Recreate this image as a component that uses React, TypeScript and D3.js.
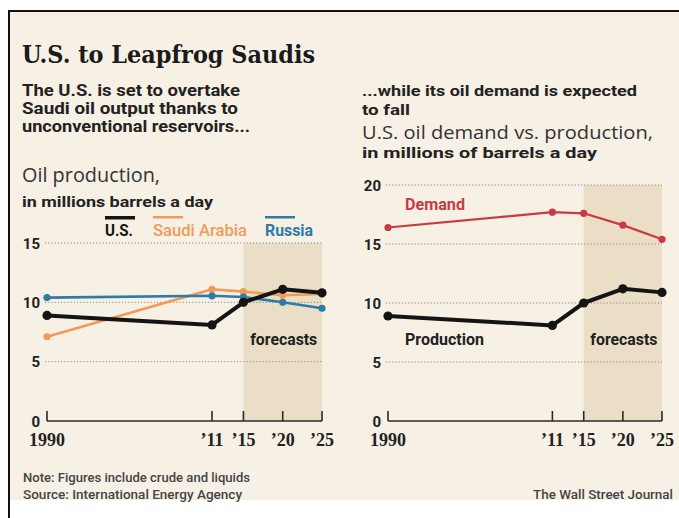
import * as d3 from "d3";

const WIDTH = 679;
const HEIGHT = 518;

// data
const years = [1990, 2011, 2015, 2020, 2025];
const yearLabels = ["1990", "’11", "’15", "’20", "’25"];
const forecastSpan = [2015, 2025];

const usOutput = [8.9, 8.1, 10.0, 11.1, 10.8];
const saudiOutput = [7.1, 11.1, 10.9, 10.6, 10.7];
const russiaOutput = [10.4, 10.55, 10.45, 10.0, 9.5];

const usDemand = [16.4, 17.7, 17.6, 16.6, 15.4];
const usProduction = [8.9, 8.1, 10.0, 11.2, 10.9];

const leftTicks = [0, 5, 10, 15];
const rightTicks = [0, 5, 10, 15, 20];

const SANS = "Roboto, 'Open Sans', sans-serif";
const LIGHT = "'Open Sans', Roboto, sans-serif";
const SERIF = "'DejaVu Serif', 'Liberation Serif', serif";
const AXIS_SERIF = "'Liberation Serif', 'DejaVu Serif', serif";

const BG = "#f6f0e5";
const SHADE = "#eadfc6";
const US_COLOR = "#141414";
const SAUDI_COLOR = "#f29a58";
const RUSSIA_COLOR = "#2d7ba6";
const DEMAND_COLOR = "#c93a43";

type Series = { values: number[]; color: string; width: number; r: number };

const Txt = ({ x, y, w, size, weight = 700, family = SANS, fill = "#222", anchor = "start", children }: any) => (
  <text
    x={x}
    y={y}
    fontSize={size}
    fontWeight={weight}
    fontFamily={family}
    fill={fill}
    textAnchor={anchor}
    textLength={w}
    lengthAdjust={w ? "spacingAndGlyphs" : undefined}
  >
    {children}
  </text>
);

const Panel = ({ xScale, yScale, ticks, series }: any) => {
  const [x0, x1] = xScale.range();
  const base = yScale(0);
  const top = yScale(ticks[ticks.length - 1]);
  const line = d3
    .line<number>()
    .x((_, i) => xScale(years[i]))
    .y((d) => yScale(d));

  return (
    <g>
      {/* forecast band */}
      <rect
        x={xScale(forecastSpan[0])}
        y={top}
        width={xScale(forecastSpan[1]) - xScale(forecastSpan[0])}
        height={base - top}
        fill={SHADE}
      />
      {ticks
        .filter((t: number) => t > 0)
        .map((t: number) => (
          <line
            key={t}
            x1={x0 - 2}
            x2={x1}
            y1={yScale(t)}
            y2={yScale(t)}
            stroke="#8c8c8c"
            strokeWidth={1}
            strokeDasharray="1.2 2"
          />
        ))}
      {ticks.map((t: number) => (
        <text
          key={t}
          x={x0 - 7}
          y={yScale(t) + 5.5}
          textAnchor="end"
          fontSize={15}
          fontWeight={700}
          fontFamily={SANS}
          fill="#222"
        >
          {t}
        </text>
      ))}
      {/* axis */}
      <line x1={x0} x2={x1} y1={base} y2={base} stroke="#2a2a2a" strokeWidth={1.6} />
      {years.map((yr, i) => (
        <g key={yr}>
          <line x1={xScale(yr)} x2={xScale(yr)} y1={base} y2={base - 10} stroke="#2a2a2a" strokeWidth={1.6} />
          <text
            x={xScale(yr)}
            y={base + 25}
            textAnchor="middle"
            fontSize={18}
            fontWeight={700}
            fontFamily={AXIS_SERIF}
            fill="#222"
          >
            {yearLabels[i]}
          </text>
        </g>
      ))}
      {series.map((s: Series, k: number) => (
        <g key={k}>
          <path d={line(s.values) ?? ""} fill="none" stroke={s.color} strokeWidth={s.width} strokeLinejoin="round" />
          {s.values.map((v, i) => (
            <circle key={i} cx={xScale(years[i])} cy={yScale(v)} r={s.r} fill={s.color} />
          ))}
        </g>
      ))}
    </g>
  );
};

export default function App() {
  const xLeft = d3.scaleLinear().domain([1990, 2025]).range([47, 322]);
  const yLeft = d3.scaleLinear().domain([0, 15]).range([421, 243]);
  const xRight = d3.scaleLinear().domain([1990, 2025]).range([388, 662]);
  const yRight = d3.scaleLinear().domain([0, 20]).range([421, 185]);

  const leftSeries: Series[] = [
    { values: saudiOutput, color: SAUDI_COLOR, width: 2.6, r: 3.6 },
    { values: russiaOutput, color: RUSSIA_COLOR, width: 2.6, r: 3.6 },
    { values: usOutput, color: US_COLOR, width: 4, r: 4.6 },
  ];
  const rightSeries: Series[] = [
    { values: usDemand, color: DEMAND_COLOR, width: 2.2, r: 3.6 },
    { values: usProduction, color: US_COLOR, width: 4, r: 4.6 },
  ];

  return (
    <svg width={WIDTH} height={HEIGHT} style={{ position: "absolute", left: 0, top: 0 }}>
      <rect x={0} y={0} width={WIDTH} height={HEIGHT} fill="#ffffff" />
      <rect x={10} y={12} width={WIDTH - 10} height={488} fill={BG} />
      <line x1={9} x2={WIDTH} y1={11} y2={11} stroke="#111" strokeWidth={2} />
      <line x1={9} x2={9} y1={10} y2={HEIGHT} stroke="#111" strokeWidth={2} />

      <Txt x={22} y={63} w={293} size={25} family={SERIF} fill="#1a1a1a">
        U.S. to Leapfrog Saudis
      </Txt>

      {/* left header */}
      <Txt x={22} y={96} w={218} size={16}>The U.S. is set to overtake</Txt>
      <Txt x={22} y={114} w={216} size={16}>Saudi oil output thanks to</Txt>
      <Txt x={22} y={132} w={228} size={16}>unconventional reservoirs...</Txt>
      <Txt x={22} y={182} w={138} size={20} weight={400} family={LIGHT} fill="#333">Oil production,</Txt>
      <Txt x={22} y={207} w={191} size={15.5}>in millions barrels a day</Txt>

      {/* legend */}
      <rect x={105} y={216} width={30} height={3.5} fill={US_COLOR} />
      <Txt x={105} y={236} w={28} size={16} fill={US_COLOR}>U.S.</Txt>
      <rect x={153} y={216} width={30} height={2.5} fill={SAUDI_COLOR} />
      <Txt x={153} y={236} w={94} size={16} weight={500} fill={SAUDI_COLOR}>Saudi Arabia</Txt>
      <rect x={265} y={216} width={30} height={2.5} fill={RUSSIA_COLOR} />
      <Txt x={265} y={236} w={48} size={16} fill={RUSSIA_COLOR}>Russia</Txt>

      {/* right header */}
      <Txt x={362} y={95.5} w={275} size={15.5}>...while its oil demand is expected</Txt>
      <Txt x={362} y={114.5} w={48} size={15.5}>to fall</Txt>
      <Txt x={362} y={139} w={291} size={19} weight={400} family={LIGHT} fill="#333">U.S. oil demand vs. production,</Txt>
      <Txt x={362} y={158} w={235} size={15}>in millions of barrels a day</Txt>

      <Panel xScale={xLeft} yScale={yLeft} ticks={leftTicks} series={leftSeries} />
      <Panel xScale={xRight} yScale={yRight} ticks={rightTicks} series={rightSeries} />

      {/* annotations */}
      <Txt x={(xLeft(2015) + xLeft(2025)) / 2 + 1} y={345} w={67} size={16} anchor="middle">forecasts</Txt>
      <Txt x={(xRight(2015) + xRight(2025)) / 2 + 1} y={345} w={67} size={16} anchor="middle">forecasts</Txt>
      <Txt x={405} y={210} w={60} size={16} fill={DEMAND_COLOR}>Demand</Txt>
      <Txt x={405} y={345} w={79} size={16}>Production</Txt>

      {/* footer */}
      <Txt x={23} y={482} w={227} size={13} weight={500} fill="#444">Note: Figures include crude and liquids</Txt>
      <Txt x={23} y={499} w={219} size={13} weight={500} fill="#444">Source:  International Energy Agency</Txt>
      <Txt x={673} y={499} w={140} size={13} weight={500} fill="#444" anchor="end">The Wall Street Journal</Txt>
    </svg>
  );
}
